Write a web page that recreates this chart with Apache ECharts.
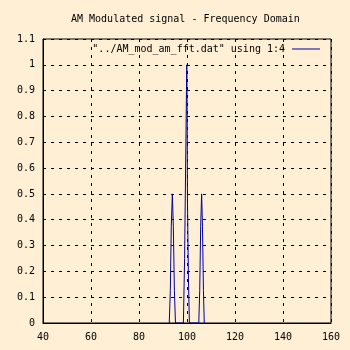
<!DOCTYPE html>
<html>
<head>
<meta charset="utf-8">
<script src="https://cdn.jsdelivr.net/npm/echarts@6/dist/echarts.min.js"></script>
<style>
html,body{margin:0;padding:0;background:#ffefd5;}
#c{width:350px;height:350px;}
</style>
</head>
<body>
<div id="c"></div>
<script>
var titleText = 'AM Modulated signal - Frequency Domain';
var seriesName = '"../AM_mod_am_fft.dat" using 1:4';
var xTicks = [40, 60, 80, 100, 120, 140, 160];
var yTicks = [0, 0.1, 0.2, 0.3, 0.4, 0.5, 0.6, 0.7, 0.8, 0.9, 1, 1.1];

// lower sideband (around 94)
var lsbFreq = [92.6, 93.05, 93.45, 93.9, 94.3, 94.75, 95.2];
var lsbAmp  = [0, 0.125, 0.375, 0.5, 0.375, 0.125, 0];
// carrier (around 100)
var carFreq = [95.2, 98.5, 99.0, 99.6, 99.9, 100.05, 100.2, 100.6, 101.0, 104.9];
var carAmp  = [0, 0, 0.25, 0.75, 1.0, 0.837, 0.47, 0.17, 0, 0];
// upper sideband (around 106)
var usbFreq = [104.9, 105.3, 105.7, 106.1, 106.45, 106.85, 107.2];
var usbAmp  = [0, 0.125, 0.375, 0.5, 0.375, 0.125, 0];

function pairs(xs, ys){ return xs.map(function(x,i){ return [x, ys[i]]; }); }

var font = 'DejaVu Sans Mono';
var lineColor = '#0000a0';

function mkSeries(xs, ys){
  return {
    name: seriesName, type: 'line', data: pairs(xs, ys),
    symbol: 'none', showSymbol: false,
    lineStyle: {color: lineColor, width: 1},
    itemStyle: {color: lineColor},
    z: 3
  };
}

var chart = echarts.init(document.getElementById('c'), null, {renderer: 'canvas'});
chart.setOption({
  animation: false,
  backgroundColor: '#ffefd5',
  title: {
    text: titleText, left: 71, top: 14, padding: 0,
    textStyle: {fontFamily: font, fontSize: 10, fontWeight: 'normal', color: '#000'}
  },
  legend: {
    data: [{name: seriesName, icon: 'rect'}],
    right: 30, top: 44, align: 'right', padding: 0,
    itemWidth: 28, itemHeight: 1, itemGap: 0,
    textStyle: {fontFamily: font, fontSize: 10, color: '#000', padding: [0, 2, 0, 0]}
  },
  grid: {
    left: 43, right: 19, top: 39, bottom: 27,
    show: true, borderColor: '#000', borderWidth: 1, backgroundColor: 'transparent'
  },
  xAxis: {
    type: 'value', min: xTicks[0], max: xTicks[xTicks.length-1], interval: 20,
    axisLine: {show: true, lineStyle: {color: '#000', width: 1}},
    axisTick: {show: false},
    axisLabel: {fontFamily: font, fontSize: 10, color: '#000', margin: 9},
    splitLine: {show: true, lineStyle: {color: '#000', type: [3, 5], width: 1}}
  },
  yAxis: {
    type: 'value', min: 0, max: 1.1, interval: 0.1,
    axisLine: {show: true, lineStyle: {color: '#000', width: 1}},
    axisTick: {show: false},
    axisLabel: {fontFamily: font, fontSize: 10, color: '#000', margin: 8,
      formatter: function(v){ return String(+v.toFixed(1)); }},
    splitLine: {show: true, lineStyle: {color: '#000', type: [3, 5], width: 1}}
  },
  series: [mkSeries(lsbFreq, lsbAmp), mkSeries(carFreq, carAmp), mkSeries(usbFreq, usbAmp)]
});
</script>
</body>
</html>
